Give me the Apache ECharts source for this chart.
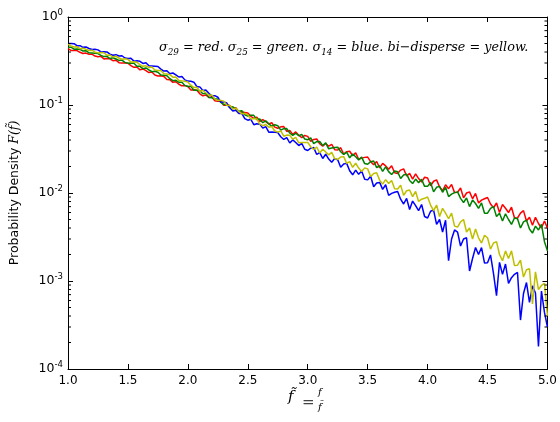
<!DOCTYPE html>
<html>
<head>
<meta charset="utf-8">
<script src="https://cdn.jsdelivr.net/npm/echarts@6/dist/echarts.min.js"></script>
<style>html,body{margin:0;padding:0;background:#fff}#c{width:560px;height:422px}</style>
</head>
<body>
<div id="c"></div>
<script>
// Sampling grid of the curves (x from 1.0 to 5.0, step 0.025)
var xStart = 1.0, xStep = 0.025, nPts = 161;
var xTicks = [1.0, 1.5, 2.0, 2.5, 3.0, 3.5, 4.0, 4.5, 5.0];
var yTickExponents = [-4, -3, -2, -1, 0];
var seriesNames = ['σ29 (red)', 'σ25 (green)', 'σ14 (blue)', 'bi-disperse (yellow)'];

var red = [
0.438,0.417,0.417,0.415,0.397,0.385,0.389,0.377,0.378,0.360,
0.354,0.357,0.334,0.337,0.335,0.319,0.323,0.303,0.301,0.300,
0.298,0.280,0.268,0.270,0.251,0.257,0.246,0.234,0.237,0.219,
0.214,0.215,0.211,0.195,0.194,0.181,0.184,0.172,0.165,0.166,
0.162,0.148,0.149,0.147,0.134,0.127,0.130,0.122,0.124,0.112,
0.110,0.110,0.0993,0.100,0.0989,0.0913,0.0932,0.0836,0.0831,0.0821,
0.0811,0.0745,0.0704,0.0725,0.0651,0.0684,0.0647,0.0608,0.0629,0.0561,
0.0545,0.0565,0.0568,0.0501,0.0514,0.0464,0.0495,0.0453,0.0426,0.0451,
0.0440,0.0387,0.0406,0.0411,0.0363,0.0340,0.0365,0.0340,0.0358,0.0311,
0.0308,0.0327,0.0277,0.0295,0.0298,0.0265,0.0287,0.0242,0.0249,0.0254,
0.0256,0.0227,0.0210,0.0228,0.0193,0.0217,0.0203,0.0186,0.0204,0.0170,
0.0167,0.0182,0.0188,0.0156,0.0167,0.0144,0.0165,0.0146,0.0133,0.0151,
0.0148,0.0121,0.0136,0.0141,0.0117,0.0106,0.0124,0.0112,0.0125,0.0101,
0.0102,0.0114,0.0088,0.0100,0.0103,0.0086,0.0099,0.0077,0.0083,0.0086,
0.0089,0.0075,0.0068,0.0077,0.0060,0.0074,0.0067,0.0060,0.0069,0.0052,
0.0052,0.0059,0.0063,0.0048,0.0053,0.0043,0.0053,0.0045,0.0040,0.0048,
0.0040];

var green = [
0.453,0.454,0.431,0.432,0.428,0.411,0.414,0.392,0.390,0.387,
0.384,0.366,0.355,0.357,0.337,0.344,0.333,0.321,0.324,0.305,
0.299,0.301,0.298,0.276,0.275,0.259,0.264,0.250,0.239,0.242,
0.236,0.219,0.218,0.215,0.199,0.189,0.191,0.181,0.181,0.167,
0.162,0.163,0.147,0.147,0.145,0.134,0.136,0.122,0.121,0.118,
0.116,0.107,0.101,0.102,0.0928,0.0954,0.0903,0.0849,0.0862,0.0776,
0.0749,0.0766,0.0763,0.0683,0.0692,0.0630,0.0661,0.0610,0.0575,0.0597,
0.0582,0.0519,0.0538,0.0540,0.0481,0.0452,0.0477,0.0447,0.0464,0.0410,
0.0403,0.0422,0.0364,0.0383,0.0385,0.0347,0.0371,0.0318,0.0325,0.0329,
0.0331,0.0294,0.0274,0.0292,0.0251,0.0277,0.0258,0.0238,0.0256,0.0216,
0.0212,0.0227,0.0231,0.0194,0.0204,0.0176,0.0198,0.0175,0.0162,0.0178,
0.0174,0.0146,0.0160,0.0164,0.0139,0.0128,0.0144,0.0131,0.0143,0.0119,
0.0119,0.0132,0.0103,0.0116,0.0119,0.0102,0.0116,0.0091,0.0097,0.0101,
0.0103,0.0087,0.0078,0.0088,0.0070,0.0083,0.0076,0.0067,0.0077,0.0059,
0.0059,0.0067,0.0070,0.0054,0.0059,0.0048,0.0058,0.0050,0.0044,0.0052,
0.0051,0.0040,0.0047,0.0049,0.0039,0.0035,0.0042,0.0038,0.0044,0.0028,
0.0022];

var blue = [
0.500,0.501,0.498,0.472,0.472,0.452,0.457,0.439,0.427,0.430,
0.423,0.401,0.403,0.401,0.379,0.368,0.373,0.360,0.363,0.342,
0.337,0.340,0.315,0.318,0.314,0.297,0.302,0.279,0.278,0.276,
0.274,0.256,0.243,0.245,0.226,0.231,0.220,0.208,0.211,0.193,
0.1869,0.1862,0.1817,0.1625,0.1606,0.1458,0.1481,0.1358,0.1267,0.1278,
0.1225,0.1080,0.1081,0.1052,0.0929,0.0857,0.0870,0.0799,0.0802,0.0701,
0.0672,0.0689,0.0597,0.0613,0.0606,0.0546,0.0569,0.0491,0.0492,0.0490,
0.0486,0.0436,0.0406,0.0426,0.0370,0.0401,0.0375,0.0346,0.0366,0.0314,
0.0304,0.0323,0.0328,0.0274,0.0288,0.0247,0.0276,0.0243,0.0224,0.0246,
0.0239,0.0196,0.0213,0.0217,0.0179,0.0161,0.0182,0.0163,0.0178,0.0143,
0.0141,0.0155,0.0118,0.0130,0.0132,0.0110,0.0124,0.0094,0.0099,0.0102,
0.0104,0.0085,0.0075,0.0087,0.0065,0.0081,0.0072,0.0063,0.0074,0.0054,
0.0052,0.0062,0.0064,0.0044,0.0050,0.0036,0.0049,0.0017,0.0030,0.0038,
0.0036,0.0025,0.0030,0.0031,0.0013,0.0018,0.0024,0.0020,0.0024,0.0016,
0.00161,0.00198,0.00121,0.00068,0.00163,0.00119,0.00156,0.00094,0.00109,0.00119,
0.00125,0.00036,0.00072,0.00096,0.00057,0.00088,0.00073,0.00018,0.00077,0.00044,
0.00030];

var yellow = [
0.490,0.470,0.457,0.459,0.437,0.442,0.430,0.417,0.420,0.398,
0.391,0.394,0.392,0.368,0.370,0.351,0.358,0.342,0.331,0.336,
0.330,0.307,0.310,0.307,0.287,0.275,0.279,0.267,0.270,0.250,
0.246,0.246,0.226,0.225,0.221,0.207,0.208,0.190,0.188,0.186,
0.1830,0.1680,0.1579,0.1588,0.1433,0.1466,0.1378,0.1290,0.1302,0.1166,
0.1129,0.1129,0.1107,0.0994,0.0987,0.0899,0.0918,0.0845,0.0793,0.0803,
0.0773,0.0691,0.0702,0.0695,0.0606,0.0582,0.0601,0.0560,0.0570,0.0506,
0.0492,0.0507,0.0442,0.0455,0.0452,0.0409,0.0429,0.0372,0.0375,0.0375,
0.0376,0.0335,0.0312,0.0333,0.0285,0.0314,0.0293,0.0271,0.0290,0.0246,
0.0241,0.0256,0.0259,0.0217,0.0227,0.0196,0.0218,0.0192,0.0176,0.0193,
0.0188,0.0154,0.0167,0.0170,0.0140,0.0126,0.0142,0.0128,0.0139,0.0112,
0.0111,0.0123,0.0094,0.0106,0.0108,0.0091,0.0104,0.0080,0.0085,0.0087,
0.0090,0.0073,0.0063,0.0073,0.0054,0.0067,0.0059,0.0051,0.0059,0.0042,
0.0041,0.0047,0.0050,0.0036,0.0040,0.0030,0.0039,0.0031,0.0027,0.0033,
0.0031,0.0023,0.0027,0.0028,0.0020,0.0017,0.0022,0.0018,0.0022,0.0015,
0.00151,0.00173,0.00111,0.00134,0.00138,0.00055,0.00127,0.00080,0.00089,0.00094,
0.00040];

// minor tick positions of the log axis (2..9 per decade)
var minorTickValues = [];
yTickExponents.slice(0, 4).forEach(function (e) {
  for (var m = 2; m <= 9; m++) minorTickValues.push(+(m * Math.pow(10, e)).toPrecision(3));
});

var xs = [];
for (var i = 0; i < nPts; i++) xs.push(+(xStart + i * xStep).toFixed(3));
function pairs(arr) { return arr.map(function (v, i) { return [xs[i], v]; }); }

var chart = echarts.init(document.getElementById('c'), null, { renderer: 'canvas' });

var serif = '"DejaVu Serif", "Liberation Serif", serif';
var sans = '"DejaVu Sans", sans-serif';

function lineSeries(name, data, color) {
  return {
    name: name, type: 'line', data: pairs(data), showSymbol: false, symbol: 'none',
    animation: false, lineStyle: { color: color, width: 1.5 }, z: 3
  };
}

var option = {
  animation: false,
  backgroundColor: '#ffffff',
  title: {
    left: 154, top: 34,
    text: '{i|σ}{s|29}{i| = red. σ}{s|25}{i| = green. σ}{s|14}{i| = blue. bi−disperse = yellow.}',
    textStyle: {
      fontWeight: 'normal',
      rich: {
        i: { fontFamily: serif, fontStyle: 'italic', fontWeight: 'normal', fontSize: 12.8, color: '#000', lineHeight: 18 },
        s: { fontFamily: serif, fontStyle: 'italic', fontWeight: 'normal', fontSize: 8.8, color: '#000', lineHeight: 9, verticalAlign: 'bottom' }
      }
    }
  },
  grid: { left: 66, right: 11, top: 17, bottom: 53, containLabel: false },
  xAxis: [{
    type: 'value', min: 1, max: 5, interval: 0.5,
    axisLine: { show: true, lineStyle: { color: '#000', width: 1 } },
    axisTick: { show: true, inside: true, length: 5, lineStyle: { color: '#000' } },
    axisLabel: { color: '#000', fontFamily: sans, fontSize: 12, margin: 6,
      formatter: function (v) { return v.toFixed(1); } },
    splitLine: { show: false }
  }, {
    type: 'value', min: 1, max: 5, interval: 0.5, position: 'top',
    axisLine: { show: true, lineStyle: { color: '#000', width: 1 } },
    axisTick: { show: true, inside: true, length: 5, lineStyle: { color: '#000' } },
    axisLabel: { show: false }, splitLine: { show: false }
  }],
  yAxis: [{
    type: 'log', logBase: 10, min: 0.0001, max: 1,
    name: '{n|Probability Density }{m|F(f̃)}',
    nameLocation: 'middle', nameGap: 47, nameRotate: 90,
    nameTextStyle: { rich: {
      n: { fontFamily: sans, fontSize: 12.5, color: '#000' },
      m: { fontFamily: serif, fontStyle: 'italic', fontSize: 12.5, color: '#000' }
    } },
    axisLine: { show: true, lineStyle: { color: '#000', width: 1 } },
    axisTick: { show: true, inside: true, length: 5, lineStyle: { color: '#000' } },
    axisLabel: {
      color: '#000', margin: 5,
      formatter: function (v) {
        var e = Math.round(Math.log10(v));
        return '{b|10}{s|' + e + '}';
      },
      rich: {
        b: { fontFamily: sans, fontSize: 12.5, color: '#000', lineHeight: 18 },
        s: { fontFamily: sans, fontSize: 8.5, color: '#000', lineHeight: 9, verticalAlign: 'top' }
      }
    },
    splitLine: { show: false }
  }, {
    type: 'log', logBase: 10, min: 0.0001, max: 1, position: 'right',
    axisLine: { show: true, lineStyle: { color: '#000', width: 1 } },
    axisTick: { show: true, inside: true, length: 5, lineStyle: { color: '#000' } },
    axisLabel: { show: false }, splitLine: { show: false }
  }],
  graphic: [
    { type: 'text', left: 288, top: 390, style: { text: 'f̃', font: 'italic 15px ' + serif, fill: '#000' } },
    { type: 'text', left: 302, top: 396, style: { text: '=', font: '15px ' + serif, fill: '#444' } },
    { type: 'text', left: 318, top: 387, style: { text: 'f', font: 'italic 10px ' + serif, fill: '#000' } },
    { type: 'text', left: 318, top: 402, style: { text: 'f̃', font: 'italic 10px ' + serif, fill: '#000' } }
  ],
  series: [
    lineSeries(seriesNames[0], red, '#ff0000'),
    lineSeries(seriesNames[1], green, '#008000'),
    lineSeries(seriesNames[2], blue, '#0000ff'),
    lineSeries(seriesNames[3], yellow, '#bfbf00'),
    {
      type: 'custom', name: 'minorTicks', silent: true, z: 5,
      data: minorTickValues.map(function (v) { return [v]; }),
      renderItem: function (params, api) {
        var v = api.value(0);
        var pl = api.coord([1, v]);
        var pr = api.coord([5, v]);
        return { type: 'group', children: [
          { type: 'line', shape: { x1: pl[0], y1: pl[1], x2: pl[0] + 3, y2: pl[1] }, style: { stroke: '#000', lineWidth: 1 } },
          { type: 'line', shape: { x1: pr[0], y1: pr[1], x2: pr[0] - 3, y2: pr[1] }, style: { stroke: '#000', lineWidth: 1 } }
        ] };
      },
      encode: { y: 0 }
    }
  ]
};
chart.setOption(option);
</script>
</body>
</html>
